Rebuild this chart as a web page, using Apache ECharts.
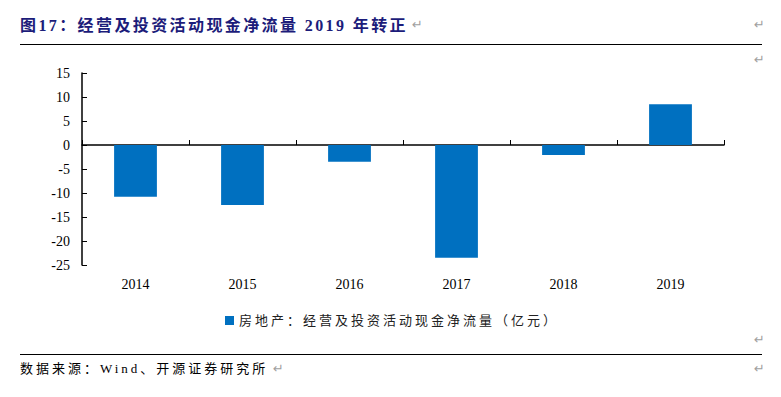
<!DOCTYPE html>
<html>
<head>
<meta charset="utf-8">
<script src="https://cdn.jsdelivr.net/npm/echarts@6/dist/echarts.min.js"></script>
<style>
	html, body { margin: 0; padding: 0; background: #fff; }
	#chart { width: 781px; height: 397px; }
	/* the report's CJK text is set with wide tracking */
	#chart text[style*="SpacedTitle"] { letter-spacing: 2.4px; }
	#chart text[style*="SpacedText"] { letter-spacing: 3px; }
</style>
</head>
<body>
<div id="chart"></div>
<script>
	var years = ['2014', '2015', '2016', '2017', '2018', '2019'];
	var netFlow = [-10.8, -12.5, -3.5, -23.5, -2.1, 8.5];
	var seriesName = '房地产：经营及投资活动现金净流量（亿元）';
	var titleText = '图17：经营及投资活动现金净流量 2019 年转正';
	var sourceText = '数据来源：Wind、开源证券研究所';

	var serif = '"Liberation Serif", "Times New Roman", serif';
	var titleFont = 'SpacedTitle, "Liberation Serif", "Noto Sans CJK SC", serif';
	var textFont = 'SpacedText, "Liberation Serif", "Noto Sans CJK SC", serif';

	function returnMark(left, top) {
		return {
			type: 'text', left: left, top: top,
			style: { text: '↵', fill: '#a0a0a0', fontSize: 13, fontFamily: '"DejaVu Sans"' }
		};
	}

	var myChart = echarts.init(document.getElementById('chart'), null, { renderer: 'svg' });
	var option = {
		animation: false,
		backgroundColor: '#fff',
		grid: {
			left: 82,
			right: 57,
			top: 73,
			bottom: 132
		},
		legend: {
			data: [seriesName],
			left: 220,
			top: 309,
			itemWidth: 9,
			itemHeight: 9,
			icon: 'rect',
			textStyle: {
				color: '#222',
				fontSize: 13,
				fontFamily: textFont
			}
		},
		xAxis: [{
			type: 'category',
			data: years,
			axisLine: {
				onZero: true,
				lineStyle: { color: '#000', width: 1.5 }
			},
			axisTick: {
				show: true,
				inside: true,
				length: 5,
				lineStyle: { color: '#000' }
			},
			axisLabel: { show: false }
		}, {
			type: 'category',
			data: years,
			position: 'bottom',
			axisLine: { show: false },
			axisTick: { show: false },
			axisLabel: {
				color: '#000',
				fontSize: 14,
				fontFamily: serif,
				margin: 12
			}
		}],
		yAxis: {
			type: 'value',
			min: -25,
			max: 15,
			interval: 5,
			splitLine: { show: false },
			axisLine: {
				show: true,
				lineStyle: { color: '#000', width: 1.5 }
			},
			axisTick: {
				show: true,
				inside: true,
				length: 5,
				lineStyle: { color: '#000' }
			},
			axisLabel: {
				color: '#000',
				fontSize: 14,
				fontFamily: serif,
				margin: 12
			}
		},
		series: [{
			name: seriesName,
			type: 'bar',
			xAxisIndex: 0,
			barWidth: '40%',
			itemStyle: { color: '#0070C0' },
			data: netFlow
		}],
		graphic: [
			{
				type: 'text', left: 20, top: 17,
				style: { text: titleText, fill: '#1c1c7a', fontSize: 16, fontWeight: 'bold', fontFamily: titleFont }
			},
			{ type: 'line', shape: { x1: 20, y1: 44.5, x2: 762, y2: 44.5 }, style: { stroke: '#000', lineWidth: 1 } },
			{ type: 'line', shape: { x1: 20, y1: 354.5, x2: 762, y2: 354.5 }, style: { stroke: '#000', lineWidth: 1 } },
			{
				type: 'text', left: 20, top: 362,
				style: { text: sourceText, fill: '#000', fontSize: 13, fontFamily: textFont }
			},
			returnMark(412, 18),
			returnMark(754, 18),
			returnMark(754, 53),
			returnMark(754, 333),
			returnMark(273, 362),
			returnMark(754, 362)
		]
	};
	myChart.setOption(option);
</script>
</body>
</html>
